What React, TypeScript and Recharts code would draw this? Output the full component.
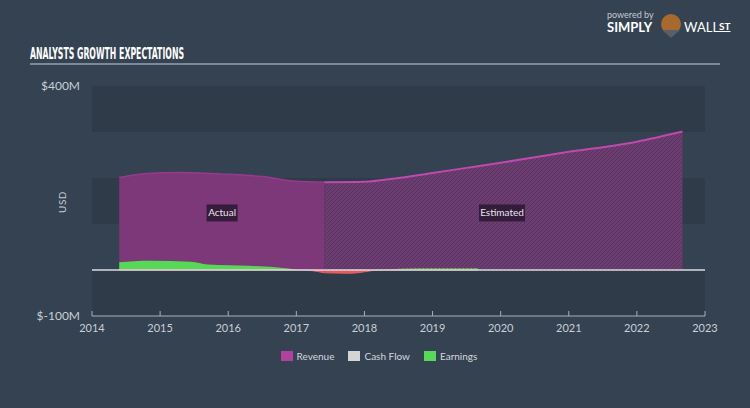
import React from "react";
import {
  ComposedChart,
  Area,
  XAxis,
  YAxis,
  ReferenceArea,
  ReferenceLine,
  ReferenceDot,
} from "recharts";

// years (fractional) and values in $M
const revenueActualYears = [2014.4, 2014.8, 2015.3, 2016.0, 2016.5, 2017.0, 2017.41];
const revenueActual = [201, 210, 212, 208, 203, 193, 191];

const revenueEstimateYears = [2017.41, 2018.0, 2018.5, 2019.0, 2019.5, 2020.0, 2020.5, 2021.0, 2021.5, 2022.0, 2022.67];
const revenueEstimate = [191, 192, 200, 211, 222, 233, 245, 257, 267, 279, 301];

const earningsActualYears = [2014.4, 2014.85, 2015.45, 2015.7, 2016.3, 2016.85, 2017.1, 2017.41];
const earningsActual = [17, 20, 18, 12, 9, 4, 0, -6];

const earningsEstimateYears = [2017.41, 2017.8, 2018.23, 2018.6, 2019.0, 2019.67];
const earningsEstimate = [-6, -7, 0, 3, 4, 4];

const yearTicks = [2014, 2015, 2016, 2017, 2018, 2019, 2020, 2021, 2022, 2023];
const valueTicks = [-100, 400];

const legendItems = [
  { name: "Revenue", color: "#b2409f" },
  { name: "Cash Flow", color: "#d4d4d4" },
  { name: "Earnings", color: "#57d957" },
];

const toRows = (years: number[], values: number[]) =>
  years.map((year, i) => ({
    year,
    value: values[i],
    pos: Math.max(values[i], 0),
    neg: Math.min(values[i], 0),
  }));

const revActualRows = toRows(revenueActualYears, revenueActual);
const revEstimateRows = toRows(revenueEstimateYears, revenueEstimate);
const earnActualRows = toRows(earningsActualYears, earningsActual);
const earnEstimateRows = toRows(earningsEstimateYears, earningsEstimate);

const BG = "#344251";
const BAND = "#2f3b49";
const TEXT = "#c9cfd6";
const FONT = "Lato, 'Open Sans', sans-serif";

const XTick = ({ x, y, payload }: any) => (
  <g>
    <line x1={x} x2={x} y1={y} y2={y - 5} stroke="#a9b1ba" strokeWidth={1} />
    <text x={x} y={y + 16} textAnchor="middle" fill={TEXT} fontSize={11} fontFamily={FONT}>
      {payload.value}
    </text>
  </g>
);

const TagLabel = (text: string, w: number) => (props: any) => {
  const { viewBox } = props;
  const cx = viewBox.x + (viewBox.width || 0) / 2;
  const cy = viewBox.y + (viewBox.height || 0) / 2;
  return (
    <g>
      <rect x={cx - w / 2} y={cy - 8.5} width={w} height={17} fill="#2a1830" fillOpacity={0.85} />
      <text x={cx} y={cy + 3.5} textAnchor="middle" fill="#e8e4ec" fontSize={10} fontFamily={FONT}>
        {text}
      </text>
    </g>
  );
};

export default function App() {
  return (
    <div
      style={{
        position: "fixed",
        left: 0,
        top: 0,
        width: 750,
        height: 408,
        background: BG,
        overflow: "hidden",
        fontFamily: FONT,
      }}
    >
      {/* header */}
      <svg width={750} height={80} style={{ position: "absolute", left: 0, top: 0 }}>
        <text
          x={30}
          y={59}
          fill="#ffffff"
          fontSize={15}
          fontWeight="bold"
          fontFamily="'Liberation Sans Narrow', 'DejaVu Sans Condensed', sans-serif"
          textLength={154}
          lengthAdjust="spacingAndGlyphs"
        >
          ANALYSTS GROWTH EXPECTATIONS
        </text>
        <line x1={30} x2={720} y1={64} y2={64} stroke="#c7d0da" strokeWidth={1} />
        <text x={607} y={18} fill="#c4cad2" fontSize={9} fontFamily={FONT}>
          powered by
        </text>
        <text x={607} y={32} fill="#ffffff" fontSize={13} fontWeight="bold" fontFamily={FONT}>
          SIMPLY
        </text>
        <circle cx={671} cy={24} r={10} fill="#a8692e" />
        <path d="M662 30 L671 38 L680 30 Z" fill="#5a5f66" />
        <text x={684} y={32} fill="#ffffff" fontSize={13} fontFamily={FONT}>
          WALL
        </text>
        <text x={719} y={30} fill="#ffffff" fontSize={10} fontWeight="bold" fontFamily={FONT} textDecoration="underline">
          ST
        </text>
      </svg>

      <ComposedChart
        width={750}
        height={408}
        margin={{ top: 86, right: 45, bottom: 62, left: 0 }}
        style={{ position: "absolute", left: 0, top: 0 }}
      >
        <defs>
          <pattern id="revHatch" width={4} height={4} patternUnits="userSpaceOnUse">
            <rect width={4} height={4} fill="#6c3d70" />
            <path d="M0,4 L4,0 M-1,1 L1,-1 M3,5 L5,3" stroke="#58335e" strokeWidth={1} />
          </pattern>
          <pattern id="earnHatch" width={4} height={4} patternUnits="userSpaceOnUse">
            <rect width={4} height={4} fill="#4ab24e" />
            <path d="M0,4 L4,0" stroke="#6fe06f" strokeWidth={1} />
          </pattern>
        </defs>

        <ReferenceArea y1={300} y2={400} fill={BAND} fillOpacity={1} stroke="none" />
        <ReferenceArea y1={100} y2={200} fill={BAND} fillOpacity={1} stroke="none" />
        <ReferenceArea y1={-100} y2={0} fill={BAND} fillOpacity={1} stroke="none" />

        <XAxis
          type="number"
          dataKey="year"
          domain={[2014, 2023]}
          ticks={yearTicks}
          allowDataOverflow
          height={30}
          stroke="#a9b1ba"
          tickLine={false}
          tickSize={0}
          tickMargin={0}
          tick={<XTick />}
        />
        <YAxis
          type="number"
          domain={[-100, 400]}
          ticks={valueTicks}
          width={92}
          axisLine={false}
          tickLine={false}
          tickSize={0}
          tickMargin={12}
          tick={{ fill: TEXT, fontSize: 12, fontFamily: FONT }}
          tickFormatter={(v: number) => `$${v}M`}
        />

        <Area
          data={revActualRows}
          dataKey="value"
          type="monotone"
          baseValue={0}
          fill="#7c3878"
          fillOpacity={1}
          stroke="#953b8c"
          strokeWidth={1.5}
          isAnimationActive={false}
        />
        <Area
          data={revEstimateRows}
          dataKey="value"
          type="monotone"
          baseValue={0}
          fill="url(#revHatch)"
          fillOpacity={1}
          stroke="#bd4aac"
          strokeWidth={2}
          isAnimationActive={false}
        />
        <Area
          data={earnActualRows}
          dataKey="pos"
          type="monotone"
          baseValue={0}
          fill="#57d957"
          fillOpacity={1}
          stroke="none"
          isAnimationActive={false}
        />
        <Area
          data={earnActualRows}
          dataKey="neg"
          type="monotone"
          baseValue={0}
          fill="#e8585a"
          fillOpacity={1}
          stroke="#f06060"
          strokeWidth={1}
          isAnimationActive={false}
        />
        <Area
          data={earnEstimateRows}
          dataKey="pos"
          type="monotone"
          baseValue={0}
          fill="url(#earnHatch)"
          fillOpacity={1}
          stroke="none"
          isAnimationActive={false}
        />
        <Area
          data={earnEstimateRows}
          dataKey="neg"
          type="monotone"
          baseValue={0}
          fill="#e8585a"
          fillOpacity={1}
          stroke="#f06060"
          strokeWidth={1}
          isAnimationActive={false}
        />

        <ReferenceLine y={0} stroke="#d9dde2" strokeWidth={1.5} />

        <ReferenceDot x={2015.91} y={124} r={0} stroke="none" label={TagLabel("Actual", 31)} />
        <ReferenceDot x={2020.02} y={124} r={0} stroke="none" label={TagLabel("Estimated", 46)} />
      </ComposedChart>

      {/* y axis title */}
      <div
        style={{
          position: "absolute",
          left: 62,
          top: 202,
          transform: "translate(-50%, -50%) rotate(-90deg)",
          color: TEXT,
          fontSize: 10,
          letterSpacing: 0.5,
        }}
      >
        USD
      </div>

      {/* legend */}
      <div
        style={{
          position: "absolute",
          top: 350,
          left: 0,
          width: 750,
          display: "flex",
          justifyContent: "center",
          gap: 14,
          paddingLeft: 4,
          fontSize: 10,
          color: "#d3d8de",
        }}
      >
        {legendItems.map((item) => (
          <div key={item.name} style={{ display: "flex", alignItems: "center", gap: 4 }}>
            <span style={{ display: "inline-block", width: 12, height: 10, background: item.color }} />
            <span>{item.name}</span>
          </div>
        ))}
      </div>
    </div>
  );
}
